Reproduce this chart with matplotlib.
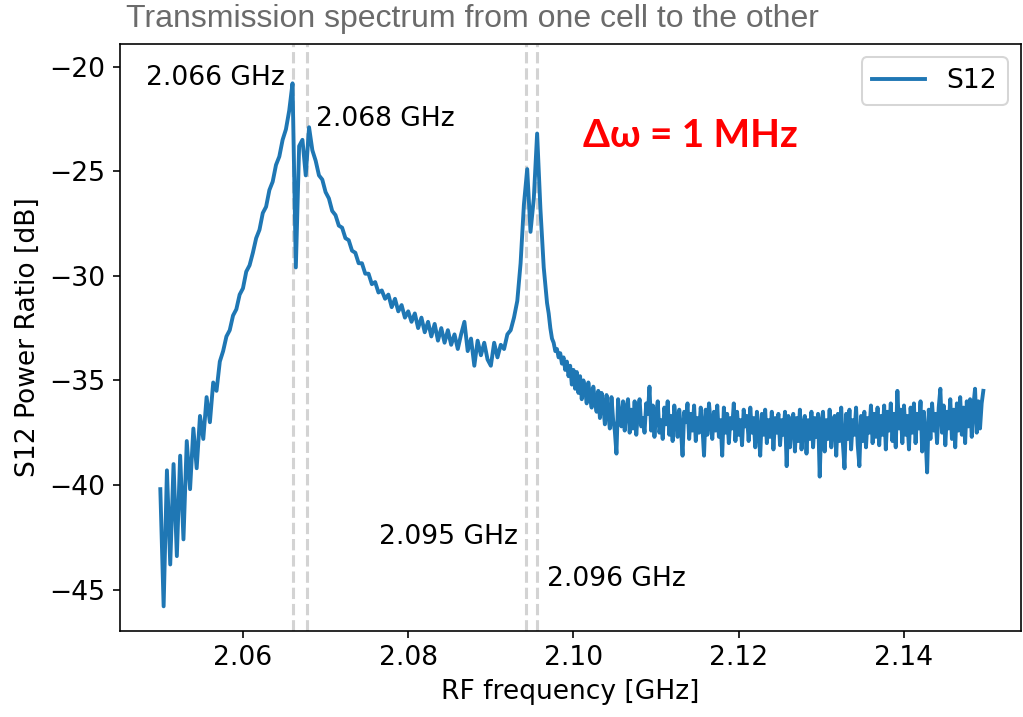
import matplotlib.pyplot as plt
import numpy as np

plt.rcParams['font.size'] = 13

# sweep grids of the VNA trace (GHz): coarse over the resonances, fine over the tail
PEAK_START, PEAK_STOP = 2.0500, 2.0968
TAIL_START, TAIL_STOP = 2.0970, 2.1496

# S12 in dB over the resonances
s12_peaks_db = [
    -40.2, -45.8, -39.3, -43.8, -39.0, -43.4, -38.6, -42.6, -37.9, -40.2,
    -37.3, -39.2, -36.7, -37.8, -35.8, -37.0, -35.1, -35.5, -34.1, -33.6,
    -32.9, -32.6, -31.9, -31.6, -30.9, -30.6, -29.8, -29.5, -28.9, -28.2,
    -27.8, -27.0, -26.7, -25.9, -25.5, -24.7, -24.3, -23.5, -23.0, -22.1,
    -20.8, -29.6, -23.8, -23.5, -25.2, -22.9, -24.0, -24.5, -25.2, -25.4,
    -26.0, -26.3, -26.9, -27.1, -27.6, -27.7, -28.2, -28.3, -28.8, -28.9,
    -29.4, -29.4, -29.9, -29.9, -30.4, -30.3, -30.8, -30.7, -31.1, -30.9,
    -31.5, -31.1, -31.7, -31.4, -32.0, -31.7, -32.2, -31.8, -32.5, -32.0,
    -32.7, -32.2, -32.9, -32.3, -33.1, -32.5, -33.2, -32.6, -33.3, -32.8,
    -33.5, -32.8, -32.2, -33.6, -33.0, -34.3, -33.1, -33.8, -33.2, -34.0,
    -34.3, -33.2, -33.9, -33.3, -33.5, -32.8, -32.6, -32.0, -31.2, -29.4,
    -26.6, -24.9, -27.9, -26.3, -23.2, -26.8, -29.6, -31.3,
]

# S12 in dB over the noisy tail
s12_tail_db = [
    -31.8, -32.5, -33.0, -33.2, -33.6, -33.5, -33.9, -33.7, -34.2, -33.9,
    -34.5, -34.1, -34.8, -34.3, -35.2, -34.5, -35.4, -34.6, -35.6, -34.8,
    -35.9, -35.0, -35.4, -36.1, -35.1, -35.8, -36.3, -35.3, -36.0, -36.5,
    -35.5, -36.8, -35.6, -36.2, -37.1, -35.7, -36.6, -37.3, -35.8, -36.9,
    -37.4, -38.5, -35.9, -36.8, -37.2, -36.0, -37.4, -36.3, -35.9, -37.5,
    -36.4, -37.3, -36.0, -37.6, -36.5, -35.9, -37.2, -36.8, -37.5, -36.1,
    -36.6, -35.3, -37.4, -36.2, -37.7, -36.6, -36.0, -37.5, -36.9, -37.8,
    -36.3, -37.1, -36.0, -37.6, -36.7, -37.9, -36.2, -36.9, -37.7, -36.4,
    -37.3, -38.6, -36.5, -37.0, -36.1, -37.8, -36.6, -37.4, -36.2, -37.9,
    -36.8, -37.5, -36.3, -37.2, -38.6, -36.4, -37.6, -36.1, -37.0, -37.8,
    -36.5, -37.4, -36.2, -37.7, -36.9, -38.6, -36.3, -37.5, -36.6, -38.0,
    -36.8, -37.3, -36.1, -37.9, -36.5, -37.6, -36.9, -38.1, -36.4, -37.2,
    -36.7, -37.9, -36.3, -37.5, -36.8, -38.2, -36.5, -37.4, -38.6, -36.6,
    -37.6, -36.4, -38.0, -36.9, -37.7, -36.5, -38.3, -36.8, -37.5, -36.6,
    -38.1, -36.9, -37.6, -36.5, -39.1, -36.7, -38.2, -37.0, -36.6, -38.4,
    -36.8, -37.9, -36.4, -38.3, -37.1, -36.7, -38.5, -36.9, -37.8, -36.5,
    -38.2, -36.8, -37.7, -36.6, -39.6, -37.0, -36.5, -38.4, -36.9, -37.8,
    -36.4, -38.2, -37.1, -36.7, -38.6, -36.6, -37.9, -36.3, -38.0, -39.2,
    -36.6, -37.8, -36.4, -38.3, -36.9, -37.6, -36.3, -38.1, -39.1, -36.7,
    -37.9, -36.5, -38.2, -36.8, -37.5, -36.2, -38.0, -36.6, -37.7, -36.3,
    -38.1, -36.7, -37.6, -36.2, -38.3, -36.5, -37.4, -36.1, -37.9, -36.6,
    -38.2, -35.5, -37.3, -36.4, -38.0, -36.2, -37.6, -36.7, -38.3, -36.3,
    -37.5, -36.1, -38.0, -36.6, -37.3, -36.0, -38.4, -36.5, -37.6, -39.4,
    -36.4, -37.8, -36.1, -37.4, -36.6, -38.0, -36.3, -35.4, -37.5, -36.2,
    -38.1, -36.5, -37.3, -35.9, -37.8, -36.4, -38.2, -36.1, -37.4, -35.8,
    -37.6, -36.3, -38.0, -36.0, -37.2, -35.9, -37.7, -36.2, -35.4, -37.5,
    -36.0, -37.3, -36.1, -35.5,
]

# resonance markers (GHz) and their labels
peak_freqs = [2.06605, 2.06774, 2.09424, 2.09561]
peak_labels = ['2.066 GHz', '2.068 GHz', '2.095 GHz', '2.096 GHz']
label_pos = [(2.0651, -20.55, 'right'), (2.0688, -22.5, 'left'),
             (2.0933, -42.5, 'right'), (2.0968, -44.5, 'left')]

freq = np.concatenate([np.linspace(PEAK_START, PEAK_STOP, len(s12_peaks_db)),
                       np.linspace(TAIL_START, TAIL_STOP, len(s12_tail_db))])
s12 = np.array(s12_peaks_db + s12_tail_db)

fig = plt.figure(figsize=(1023 / 147, 717 / 147), dpi=147)
ax = fig.add_axes([120 / 1023, 86 / 717, 901 / 1023, 587 / 717])

for f in peak_freqs:
    ax.axvline(f, color='lightgray', ls='--', lw=1.5)

ax.plot(freq, s12, color='tab:blue', lw=1.9, label='S12')

for (fx, fy, ha), txt in zip(label_pos, peak_labels):
    ax.text(fx, fy, txt, ha=ha, va='center')

ax.text(2.1011, -23.3, 'Δω = 1 MHz', color='red', fontsize=19,
        fontweight='bold', family=['Lato', 'DejaVu Sans'], va='center')

ax.set_xlim(2.04512, 2.15416)
ax.set_ylim(-46.98, -18.92)
ax.set_xticks([2.06, 2.08, 2.10, 2.12, 2.14])
ax.set_xlabel('RF frequency [GHz]')
ax.set_ylabel('S12 Power Ratio [dB]')
ax.legend(loc='upper right')

fig.text(126 / 1023, 1 - 27 / 717, 'Transmission spectrum from one cell to the other',
         color='#6b6b6b', fontsize=15.7, family=['Liberation Sans', 'DejaVu Sans'],
         va='baseline')

fig.savefig('out.png', dpi=147)
